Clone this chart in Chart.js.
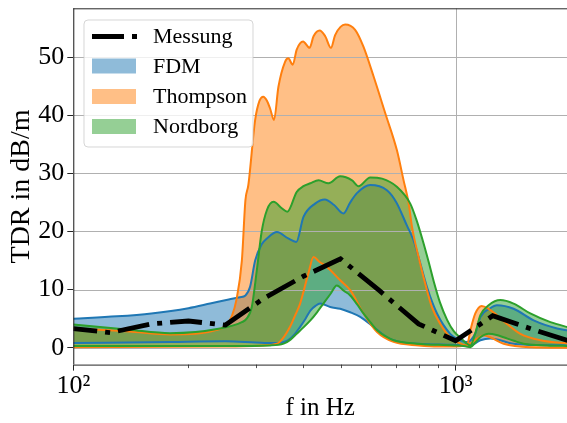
<!DOCTYPE html>
<html><head><meta charset="utf-8">
<script src="https://cdn.jsdelivr.net/npm/chart.js@4/dist/chart.umd.min.js"></script>
<style>html,body{margin:0;padding:0;background:#fff;overflow:hidden}</style>
</head><body>
<canvas id="c" width="567" height="423"></canvas>
<script>
// ---------- data ----------
const legendLabels = ['Messung', 'FDM', 'Thompson', 'Nordborg'];
const xTickValues = [100,200,300,400,500,600,700,800,900,1000];
const xMajorTicks = [100, 1000];
const xMajorLabels = ['10\u00B2', '10\u00B3'];
const yTickValues = [0,10,20,30,40,50];

const messungF = [100,125,160,200,250,315,400,500,630,800,1000,1250,1600,2000];
const messungV = [3.3,2.6,4.1,4.6,3.9,8.5,12.3,15.3,9.9,4.1,1.2,5.5,3.1,1.1];

const fdmUpperF = [100,130,160,200,228,255,273,282,290,299,311,321,341,365,383,400,429,455,480,509,530,552,598,661,700,746,776,800,842,894,968,1018,1071,1126,1161,1232,1283,1418,1600,1843,2000];
const fdmUpperV = [5.0,5.4,5.9,6.8,7.6,8.3,8.7,9.0,10.5,15.0,17.8,18.8,19.9,18.8,18.2,22.5,24.8,25.5,24.6,23.1,25.0,26.6,28.0,27.1,25.0,21.0,18.5,15.6,10.4,5.9,2.4,1.4,1.0,2.5,5.3,6.8,7.3,6.7,4.7,3.3,2.9];
const fdmLowerF = [100,180,250,300,334,352,365,380,392,405,417,430,442,470,499,530,563,610,661,717,800,968,1093,1161,1232,1418,1700,2000];
const fdmLowerV = [0.8,1.0,1.1,0.9,0.8,0.9,1.3,2.4,3.6,5.0,6.4,7.2,7.6,7.0,6.7,6.1,5.3,3.6,1.8,1.0,0.7,0.5,0.4,1.3,1.6,0.7,0.45,0.4];

const thompsonUpperF = [100,140,179,242,252,260,267,276,282,287,299,307,314,321,327,335,344,358,365,375,384,399,415,425,441,456,472,484,500,514,546,574,610,655,702,731,754,769,800,833,867,912,968,1049,1070,1093,1126,1170,1220,1283,1363,1477,1666,2000];
const thompsonUpperV = [3.3,2.8,2.3,3.2,4.0,5.5,8.2,15.0,25.4,28.0,39.2,42.5,43.2,42.5,41.2,39.2,44.9,49.2,49.8,48.7,51.3,52.7,51.6,53.6,54.6,53.6,51.6,53.8,55.2,55.6,54.7,51.8,46.7,40.3,34.0,28.8,24.8,20.8,15.6,11.0,7.0,4.1,1.8,0.5,0.3,3.0,5.9,7.2,6.7,5.6,4.1,2.4,1.3,0.7];
const thompsonLowerF = [100,250,314,341,355,369,380,392,412,425,440,461,499,530,574,623,688,800,900,1000,1093,1140,1184,1232,1335,1568,2000];
const thompsonLowerV = [0.1,0.2,0.4,0.7,1.8,3.6,5.5,7.6,12.8,15.6,14.8,13.9,11.6,9.9,5.9,2.7,1.0,0.4,0.2,0.2,0.7,1.6,2.1,1.8,0.7,0.1,0.0];

const nordborgUpperF = [100,140,179,242,276,284,293,302,311,321,334,351,363,384,400,417,438,465,499,536,557,598,642,702,761,790,820,850,880,910,950,990,1030,1065,1093,1126,1161,1220,1309,1418,1568,1770,2000];
const nordborgUpperV = [4.0,3.1,2.5,3.3,4.4,5.0,7.0,13.3,20.0,23.7,25.1,24.0,23.4,26.8,27.8,28.3,28.8,28.3,29.5,28.8,27.8,29.3,29.1,27.7,24.8,22.0,18.5,14.8,11.0,7.8,4.8,2.8,1.7,0.8,0.4,2.5,5.6,7.3,8.2,7.6,5.9,4.4,3.4];
const nordborgLowerF = [100,250,327,355,370,384,400,417,434,451,470,489,510,530,552,574,600,623,655,688,792,988,1060,1093,1130,1161,1220,1280,1335,1420,1506,1735,2000];
const nordborgLowerV = [0.3,0.3,0.4,0.7,1.4,2.4,3.5,4.7,6.1,7.6,9.2,10.7,9.8,9.0,7.5,5.9,4.3,3.0,2.0,1.3,0.7,0.4,0.25,0.1,1.0,1.8,2.4,2.2,1.8,1.2,0.7,0.4,0.3];

// ---------- styles ----------
const C_BLUE = '#1f77b4', C_ORANGE = '#ff7f0e', C_GREEN = '#2ca02c';
const F_BLUE = 'rgba(31,119,180,0.5)', F_ORANGE = 'rgba(255,127,14,0.5)', F_GREEN = 'rgba(44,160,44,0.5)';
const SERIF = '"Liberation Serif", "Times New Roman", serif';

const pts = (fs, vs) => fs.map((f, i) => ({x: f, y: vs[i]}));

function band(up, low, lineColor, fillColor, orderBase) {
  return [
    {data: up, borderColor: lineColor, backgroundColor: fillColor, borderWidth: 2, fill: '+1', order: orderBase, cubicInterpolationMode: 'monotone'},
    {data: low, borderColor: lineColor, backgroundColor: fillColor, borderWidth: 2, fill: false, order: orderBase - 1, cubicInterpolationMode: 'monotone'}
  ];
}

const datasets = [
  ...band(pts(fdmUpperF, fdmUpperV), pts(fdmLowerF, fdmLowerV), C_BLUE, F_BLUE, 6),
  ...band(pts(thompsonUpperF, thompsonUpperV), pts(thompsonLowerF, thompsonLowerV), C_ORANGE, F_ORANGE, 4),
  ...band(pts(nordborgUpperF, nordborgUpperV), pts(nordborgLowerF, nordborgLowerV), C_GREEN, F_GREEN, 2),
  {data: pts(messungF, messungV), borderColor: '#000', borderWidth: 4.8, borderDash: [32, 8, 5, 8], borderDashOffset: 8,
   borderCapStyle: 'butt', fill: false, tension: 0, order: 0}
];

// gridlines above fills but below lines (matplotlib zorder), frame, minor ticks
const gridPlugin = {
  id: 'gridAbove',
  beforeDatasetsDraw(chart) {
    const {ctx, chartArea: a, scales: {x, y}} = chart;
    ctx.save();
    ctx.beginPath(); ctx.rect(a.left, a.top, a.right - a.left, a.bottom - a.top); ctx.clip();
    ctx.strokeStyle = '#b0b0b0'; ctx.lineWidth = 1;
    yTickValues.forEach(v => { const py = Math.round(y.getPixelForValue(v)) + 0.5;
      ctx.beginPath(); ctx.moveTo(a.left, py); ctx.lineTo(a.right, py); ctx.stroke(); });
    xMajorTicks.forEach(v => { const px = Math.round(x.getPixelForValue(v)) + 0.5;
      ctx.beginPath(); ctx.moveTo(px, a.top); ctx.lineTo(px, a.bottom); ctx.stroke(); });
    ctx.restore();
  },
  afterDraw(chart) {
    const {ctx, chartArea: a, scales: {x}} = chart;
    ctx.save();
    ctx.strokeStyle = '#262626'; ctx.lineWidth = 1;
    ctx.beginPath(); ctx.moveTo(a.left, a.top + 0.5); ctx.lineTo(a.right, a.top + 0.5); ctx.stroke();
    ctx.beginPath(); ctx.moveTo(a.left + 0.5, a.top); ctx.lineTo(a.left + 0.5, a.bottom); ctx.stroke();
    ctx.beginPath(); ctx.moveTo(a.left, a.bottom + 0.5); ctx.lineTo(a.right, a.bottom + 0.5); ctx.stroke();
    ctx.lineWidth = 0.8;
    xTickValues.filter(v => !xMajorTicks.includes(v)).forEach(v => {
      const px = Math.round(x.getPixelForValue(v)) + 0.5;
      ctx.beginPath(); ctx.moveTo(px, a.bottom); ctx.lineTo(px, a.bottom + 3.5); ctx.stroke();
    });
    ctx.restore();
  }
};

const legendPlugin = {
  id: 'innerLegend',
  afterDraw(chart) {
    const ctx = chart.ctx;
    const bx = 84, by = 20, bw = 169, bh = 127, r = 4;
    ctx.save();
    ctx.beginPath();
    ctx.moveTo(bx + r, by); ctx.lineTo(bx + bw - r, by); ctx.arcTo(bx + bw, by, bx + bw, by + r, r);
    ctx.lineTo(bx + bw, by + bh - r); ctx.arcTo(bx + bw, by + bh, bx + bw - r, by + bh, r);
    ctx.lineTo(bx + r, by + bh); ctx.arcTo(bx, by + bh, bx, by + bh - r, r);
    ctx.lineTo(bx, by + r); ctx.arcTo(bx, by, bx + r, by, r); ctx.closePath();
    ctx.fillStyle = 'rgba(255,255,255,0.8)'; ctx.fill();
    ctx.strokeStyle = 'rgba(204,204,204,0.8)'; ctx.lineWidth = 1; ctx.stroke();
    const rowY = [36.5, 66, 96.5, 126.5];
    const fills = [null, F_BLUE, F_ORANGE, F_GREEN];
    legendLabels.forEach((lab, i) => {
      const cy = rowY[i];
      if (i === 0) {
        ctx.strokeStyle = '#000'; ctx.lineWidth = 4.8; ctx.lineCap = 'butt';
        ctx.setLineDash([32, 8, 5, 8]);
        ctx.beginPath(); ctx.moveTo(92, cy); ctx.lineTo(137, cy); ctx.stroke();
        ctx.setLineDash([]);
      } else {
        ctx.fillStyle = fills[i]; ctx.fillRect(92, cy - 7.5, 44, 15);
      }
      ctx.fillStyle = '#000'; ctx.font = '22px ' + SERIF; ctx.textBaseline = 'middle'; ctx.textAlign = 'left';
      ctx.fillText(lab, 153, cy + 1);
    });
    ctx.restore();
  }
};

new Chart(document.getElementById('c'), {
  type: 'line',
  data: {datasets},
  options: {
    responsive: false, animation: false, devicePixelRatio: 1,
    parsing: true, normalized: true,
    layout: {padding: {left: 0, right: 0, top: 8.3, bottom: 0}},
    elements: {point: {radius: 0, hoverRadius: 0}},
    plugins: {legend: {display: false}, tooltip: {enabled: false}, filler: {drawTime: 'beforeDatasetsDraw', propagate: false}},
    scales: {
      x: {
        type: 'logarithmic', min: 100, max: 1956,
        afterBuildTicks: s => { s.ticks = xTickValues.map(v => ({value: v, major: xMajorTicks.includes(v)})); },
        afterFit: s => { s.height = 58.4; s.paddingLeft = 0; s.paddingRight = 0; },
        ticks: {
          autoSkip: false, maxRotation: 0, minRotation: 0, padding: 0, color: '#000',
          font: {family: SERIF, size: 26},
          callback: v => { const k = xMajorTicks.indexOf(v); return k >= 0 ? xMajorLabels[k] : ''; }
        },
        grid: {color: 'rgba(0,0,0,0)', drawTicks: true, tickLength: 6, tickWidth: 1,
               tickColor: c => (c.tick && xMajorTicks.includes(c.tick.value)) ? '#262626' : 'rgba(0,0,0,0)'},
        border: {display: false},
        title: {display: true, text: 'f in Hz', color: '#000', font: {family: SERIF, size: 25}, padding: {top: 0, bottom: 0}}
      },
      y: {
        type: 'linear', min: -2.9, max: 58.4,
        afterBuildTicks: s => { s.ticks = yTickValues.map(v => ({value: v})); },
        afterFit: s => { s.width = 73.3; s.paddingTop = 0; s.paddingBottom = 0; },
        ticks: {padding: 3, color: '#000', font: {family: SERIF, size: 26}},
        grid: {color: 'rgba(0,0,0,0)', drawTicks: true, tickLength: 6, tickColor: '#262626', tickWidth: 1},
        border: {display: false},
        title: {display: true, text: 'TDR in dB/m', color: '#000', font: {family: SERIF, size: 28}, padding: {top: 5, bottom: 0}}
      }
    }
  },
  plugins: [gridPlugin, legendPlugin]
});
</script>
</body></html>
